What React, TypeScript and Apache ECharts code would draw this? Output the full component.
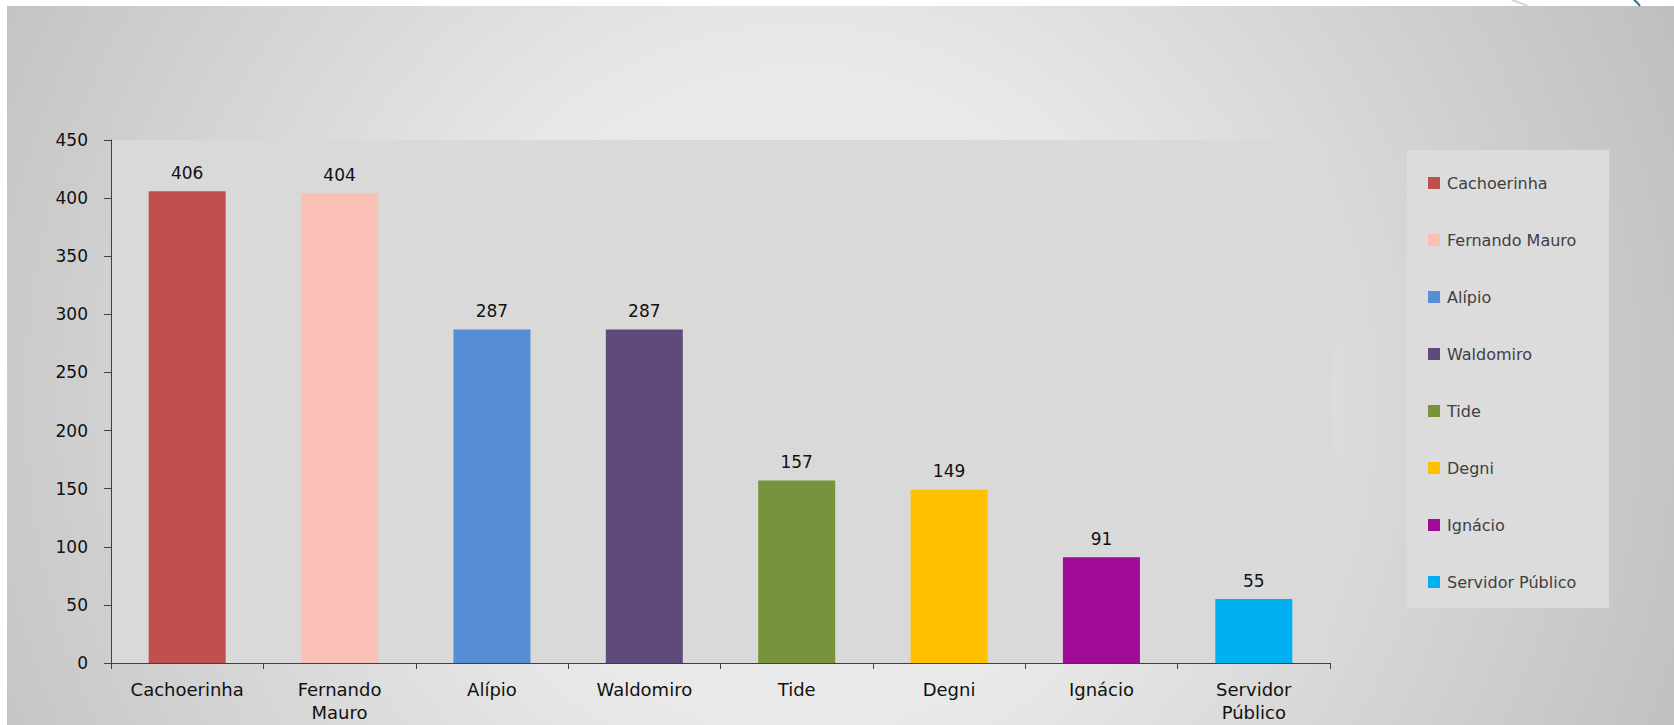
import React, { useEffect, useRef } from "react";
import * as echarts from "echarts";

const categories = ["Cachoerinha", "Fernando Mauro", "Alípio", "Waldomiro", "Tide", "Degni", "Ignácio", "Servidor Público"];
const axisLabels = ["Cachoerinha", "Fernando\nMauro", "Alípio", "Waldomiro", "Tide", "Degni", "Ignácio", "Servidor\nPúblico"];
const values = [406, 404, 287, 287, 157, 149, 91, 55];
const colors = ["#C0504D", "#FAC0B5", "#558ED5", "#604A7B", "#77933C", "#FFC000", "#9F0A96", "#00B0F0"];
const yTicks = { min: 0, max: 450, interval: 50 };

export default function App() {
  const ref = useRef<HTMLDivElement>(null);
  useEffect(() => {
    document.body.style.margin = "0";
    const chart = echarts.init(ref.current!, null, { renderer: "svg" });
    const series = categories.map((name, i) => ({
      name,
      type: "bar",
      stack: "all",
      barWidth: 77,
      itemStyle: { color: colors[i] },
      label: {
        show: true,
        position: "top",
        distance: 10,
        color: "#111",
        fontFamily: "DejaVu Sans",
        fontSize: 17,
      },
      data: values.map((v, j) => (j === i ? v : "-")),
    }));
    chart.setOption({
      animation: false,
      backgroundColor: "#ffffff",
      graphic: {
        elements: [
          {
            type: "rect",
            z: -10,
            shape: { x: 7, y: 6, width: 1667, height: 719 },
            style: {
              fill: new echarts.graphic.RadialGradient(800, 400, 1000, [
                { offset: 0, color: "#f1f1f1" },
                { offset: 0.35, color: "#e8e8e8" },
                { offset: 1, color: "#bcbcbc" },
              ], true),
            },
          },
          {
            type: "line",
            z: -10,
            shape: { x1: 1512, y1: 0, x2: 1528, y2: 6 },
            style: { stroke: "#d0d8dc", lineWidth: 2 },
          },
          {
            type: "bezierCurve",
            z: -10,
            shape: { x1: 1634, y1: 0, x2: 1640, y2: 6, cpx1: 1637, cpy1: 2 },
            style: { stroke: "#1f6f8f", lineWidth: 2, fill: "none" },
          },
          {
            type: "rect",
            z: -5,
            shape: { x: 1407, y: 150, width: 202, height: 458 },
            style: { fill: "#dcdcdc" },
          },
        ],
      },
      grid: {
        left: 111,
        right: 344,
        top: 140,
        bottom: 62,
        show: true,
        backgroundColor: "#d9d9d9",
        borderWidth: 0,
      },
      legend: {
        orient: "vertical",
        left: 1423,
        top: 170,
        itemWidth: 12,
        itemHeight: 12,
        itemGap: 41,
        icon: "rect",
        data: categories,
        textStyle: {
          color: "#404040",
          fontFamily: "DejaVu Sans",
          fontSize: 16,
          padding: [0, 0, 0, 2],
        },
      },
      xAxis: {
        type: "category",
        data: axisLabels,
        axisLine: { show: true, lineStyle: { color: "#404040", width: 1 } },
        axisTick: { show: true, length: 6, interval: 0, lineStyle: { color: "#404040" } },
        axisLabel: {
          interval: 0,
          margin: 15,
          color: "#111",
          fontFamily: "DejaVu Sans",
          fontSize: 18,
          lineHeight: 23,
        },
      },
      yAxis: {
        type: "value",
        min: yTicks.min,
        max: yTicks.max,
        interval: yTicks.interval,
        splitLine: { show: false },
        axisLine: { show: true, lineStyle: { color: "#404040", width: 1 } },
        axisTick: { show: true, length: 7, lineStyle: { color: "#404040" } },
        axisLabel: {
          margin: 23,
          color: "#111",
          fontFamily: "DejaVu Sans",
          fontSize: 17,
        },
      },
      series,
    });
    return () => chart.dispose();
  }, []);
  return (
    <div
      ref={ref}
      style={{ position: "fixed", top: 0, left: 0, width: 1674, height: 725 }}
    />
  );
}
